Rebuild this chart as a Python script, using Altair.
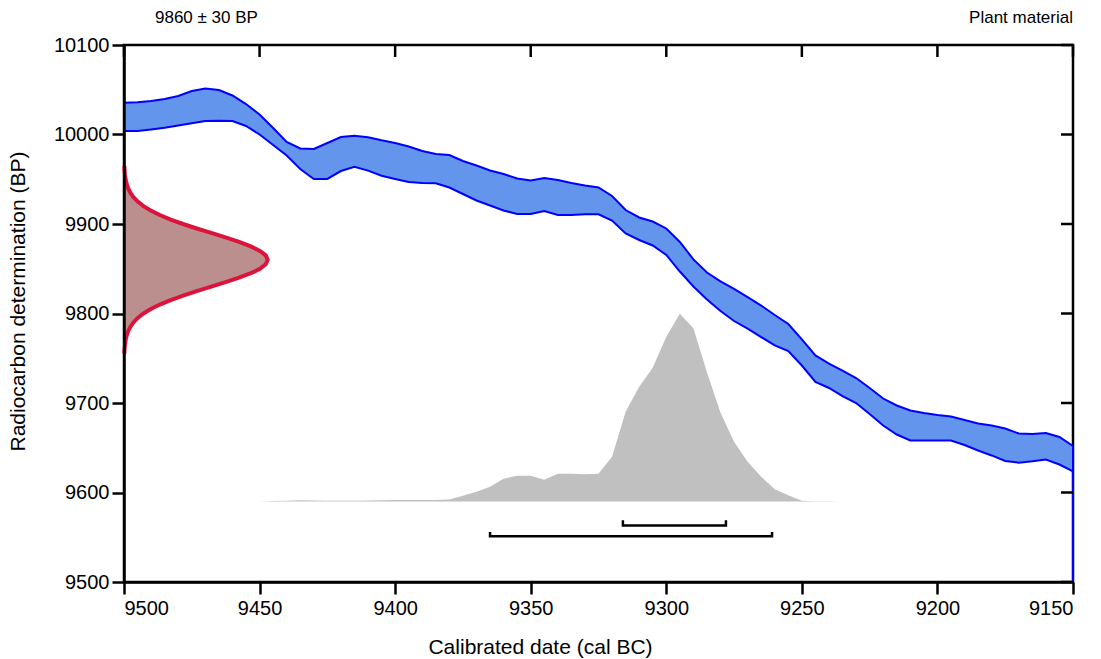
import altair as alt
import pandas as pd

# ---------------- data ----------------
years = [9500, 9495, 9490, 9485, 9480, 9475, 9470, 9465, 9460, 9455,
         9450, 9445, 9440, 9435, 9430, 9425, 9420, 9415, 9410, 9405,
         9400, 9395, 9390, 9385, 9380, 9375, 9370, 9365, 9360, 9355,
         9350, 9345, 9340, 9335, 9330, 9325, 9320, 9315, 9310, 9305,
         9300, 9295, 9290, 9285, 9280, 9275, 9270, 9265, 9260, 9255,
         9250, 9245, 9240, 9235, 9230, 9225, 9220, 9215, 9210, 9205,
         9200, 9195, 9190, 9185, 9180, 9175, 9170, 9165, 9160, 9155,
         9150]
curve_upper = [10035.5, 10036, 10037.4, 10039.7, 10043, 10048.6, 10051.4, 10049.7, 10043.6, 10034,
               10022.3, 10007.3, 9991.6, 9984.4, 9983.8, 9990.5, 9997.2, 9998.7, 9996.9, 9993.5,
               9990.5, 9986.6, 9981.6, 9978.2, 9977.1, 9970.4, 9965.4, 9959.8, 9955.9, 9950.8,
               9948.6, 9951.4, 9949.2, 9945.8, 9943, 9940.8, 9931.3, 9915.6, 9907.3, 9902.8,
               9895, 9879.9, 9860.5, 9845.8, 9835.8, 9827.4, 9818.4, 9808.9, 9798.3, 9788.3,
               9771, 9753.1, 9744.1, 9736.3, 9727.9, 9716.8, 9705, 9697.2, 9691.6, 9688.8,
               9686.6, 9684.9, 9681, 9677.1, 9674.9, 9671.5, 9665.9, 9665.4, 9666.5, 9662,
               9652]
curve_lower = [10003.9, 10003.9, 10005.6, 10007.6, 10010.1, 10012.5, 10015.1, 10015.4, 10015.1, 10009.5,
               10000, 9988.3, 9976.5, 9961.5, 9950.3, 9950.3, 9959.2, 9964, 9959.6, 9954,
               9950.3, 9946.9, 9945.8, 9945.5, 9940.8, 9933.5, 9926.3, 9920.7, 9915.1, 9911.2,
               9911.2, 9914.5, 9910.1, 9910.1, 9910.8, 9910.8, 9903.9, 9889.4, 9882.1, 9876,
               9865.4, 9846.9, 9830.2, 9815.6, 9802.8, 9791.6, 9783.2, 9773.7, 9764.3, 9758.1,
               9741.9, 9723.5, 9716.8, 9707.8, 9700, 9687.7, 9674.9, 9664.8, 9658.1, 9658,
               9658, 9658, 9653.1, 9646.9, 9641.4, 9635.2, 9633.3, 9634.9, 9636.9, 9631.3,
               9623.5]

# calibrated probability distribution (grey), drawn above a baseline in BP units
prob_base = 9590
prob_years = [9450, 9445, 9440, 9435, 9430, 9425, 9420, 9415, 9410, 9405,
              9400, 9395, 9390, 9385, 9380, 9375, 9370, 9365, 9360, 9355,
              9350, 9345, 9340, 9335, 9330, 9325, 9320, 9315, 9310, 9305,
              9300, 9295, 9290, 9285, 9280, 9275, 9270, 9265, 9260, 9255,
              9250, 9245, 9240, 9235, 9230]
prob_height = [0, 0.5, 0.8, 1.3, 1.1, 0.8, 0.8, 0.9, 1.0, 1.3,
               1.6, 1.6, 1.5, 1.7, 2.2, 6.4, 10.8, 16.4, 25.4, 28.7,
               28.7, 24.2, 31, 31, 30.4, 31, 49.9, 100.2, 128.2, 149.4,
               184, 209.7, 193.5, 144.4, 99.1, 66.7, 44.4, 27.6, 13.6, 6.9,
               0.8, 0.2, 0.1, 0.05, 0]

# radiocarbon measurement distribution 9860 +/- 30 BP (red), width in years
meas_bp = [9755, 9760, 9765, 9770, 9775, 9780, 9785, 9790, 9795, 9800,
           9805, 9810, 9815, 9820, 9825, 9830, 9835, 9840, 9845, 9850,
           9855, 9860, 9865, 9870, 9875, 9880, 9885, 9890, 9895, 9900,
           9905, 9910, 9915, 9920, 9925, 9930, 9935, 9940, 9945, 9950,
           9955, 9960, 9965]
meas_width = [0.12, 0.20, 0.35, 0.59, 0.96, 1.51, 2.33, 3.48, 5.07, 7.17,
              9.87, 13.22, 17.21, 21.79, 26.83, 32.15, 37.45, 42.44, 46.77, 50.13,
              52.27, 53.0, 52.27, 50.13, 46.77, 42.44, 37.45, 32.15, 26.83, 21.79,
              17.21, 13.22, 9.87, 7.17, 5.07, 3.48, 2.33, 1.51, 0.96, 0.59,
              0.35, 0.20, 0.12]

# calibrated ranges (68.2% and 95.4%)
range_names = ["68.2%", "95.4%"]
range_from = [9316, 9365]
range_to = [9278, 9261]
range_bp = [9563, 9551]
range_cap_bp = [9569, 9556]

x_ticks = [9500, 9450, 9400, 9350, 9300, 9250, 9200, 9150]
y_ticks = [9500, 9600, 9700, 9800, 9900, 10000, 10100]

label_left = "9860 ± 30 BP"
label_right = "Plant material"
x_title = "Calibrated date (cal BC)"
y_title = "Radiocarbon determination (BP)"

# ---------------- tables ----------------
W, H = 949, 537
FONT = "Liberation Sans"

cal = pd.DataFrame({"year": years, "upper": curve_upper, "lower": curve_lower})
prob = pd.DataFrame({"year": prob_years, "h": prob_height})
prob["top"] = prob_base + prob["h"]
prob["base"] = prob_base
meas = pd.DataFrame({"bp": meas_bp, "w": meas_width})
meas["xl"] = 9500 - meas["w"]
meas["x0"] = 9500

rows = []
for n, a, b, y, c in zip(range_names, range_from, range_to, range_bp, range_cap_bp):
    rows += [{"r": n, "o": 0, "year": a, "bp": c},
             {"r": n, "o": 1, "year": a, "bp": y},
             {"r": n, "o": 2, "year": b, "bp": y},
             {"r": n, "o": 3, "year": b, "bp": c}]
brackets = pd.DataFrame(rows)

xs = alt.Scale(domain=[9500, 9150], nice=False, zero=False)
ys = alt.Scale(domain=[9500, 10100], nice=False, zero=False)

x_axis = alt.Axis(values=x_ticks, format="d", title=x_title, grid=False,
                  tickSize=12, tickWidth=2.5, tickColor="black",
                  domain=True, domainColor="black", domainWidth=2.5,
                  labelFont=FONT, labelFontSize=20, labelFontWeight="normal",
                  labelColor="black", labelPadding=4,
                  titleFont=FONT, titleFontSize=21, titleFontWeight="normal", titleColor="black",
                  titleX=416, titleY=54, titleBaseline="top", zindex=2)
y_axis = alt.Axis(values=y_ticks, format="d", title=y_title, grid=False,
                  tickSize=12, tickWidth=2.5, tickColor="black",
                  domain=True, domainColor="black", domainWidth=2.5,
                  labelFont=FONT, labelFontSize=20, labelFontWeight="normal",
                  labelColor="black", labelPadding=3,
                  titleFont=FONT, titleFontSize=21, titleFontWeight="normal", titleColor="black",
                  titleX=-106, titleY=256, titleAngle=270, titleBaseline="middle",
                  titleAlign="center", zindex=2)

def X(field):
    return alt.X(field, type="quantitative", scale=xs, axis=x_axis)

def Y(field):
    return alt.Y(field, type="quantitative", scale=ys, axis=y_axis)

grey = alt.Chart(prob).mark_area(color="#C0C0C0", opacity=1).encode(
    x=X("year"), y=Y("top"), y2="base")

meas_area = alt.Chart(meas).mark_area(orient="horizontal", color="#BC8F8F", opacity=1).encode(
    y=Y("bp"), x=X("xl"), x2="x0")
meas_line = alt.Chart(meas).mark_line(color="#DC143C", strokeWidth=4).encode(
    y=Y("bp"), x=X("xl"), order=alt.Order("bp:Q"))

band = alt.Chart(cal).mark_area(color="#6495ED", opacity=1).encode(
    x=X("year"), y=Y("upper"), y2="lower")
up_line = alt.Chart(cal).mark_line(color="#0000FF", strokeWidth=2).encode(
    x=X("year"), y=Y("upper"))
lo_line = alt.Chart(cal).mark_line(color="#0000FF", strokeWidth=2).encode(
    x=X("year"), y=Y("lower"))
edge = alt.Chart(pd.DataFrame({"year": [9150], "a": [curve_upper[-1]], "b": [9500]})).mark_rule(
    color="#0000FF", strokeWidth=2).encode(x=X("year"), y=Y("a"), y2="b")

br = alt.Chart(brackets).mark_line(color="black", strokeWidth=2.5, strokeJoin="miter").encode(
    x=X("year"), y=Y("bp"), detail="r:N", order=alt.Order("o:Q"))

top_ticks = alt.Chart(pd.DataFrame({"v": x_ticks})).mark_rule(color="black", strokeWidth=2.5).encode(
    x=X("v"), y=alt.value(0), y2=alt.value(12))
right_ticks = alt.Chart(pd.DataFrame({"v": y_ticks})).mark_rule(color="black", strokeWidth=2.5).encode(
    y=Y("v"), x=alt.value(W - 12), x2=alt.value(W))

t_left = alt.Chart(pd.DataFrame({"t": [label_left]})).mark_text(
    align="left", baseline="middle", font=FONT, fontSize=17, color="black").encode(
    x=alt.value(31), y=alt.value(-27), text="t:N")
t_right = alt.Chart(pd.DataFrame({"t": [label_right]})).mark_text(
    align="right", baseline="middle", font=FONT, fontSize=17, color="black").encode(
    x=alt.value(W), y=alt.value(-27), text="t:N")

chart = alt.layer(grey, meas_area, meas_line, band, up_line, lo_line, edge, br,
                  top_ticks, right_ticks, t_left, t_right).properties(
    width=W, height=H,
    padding={"left": 124, "top": 45, "right": 28, "bottom": 77},
    autosize=alt.AutoSizeParams(type="none"),
    background="white",
).configure_view(stroke="black", strokeWidth=2.5)

chart.save("out.html", embed_options={"renderer": "svg", "actions": False})
